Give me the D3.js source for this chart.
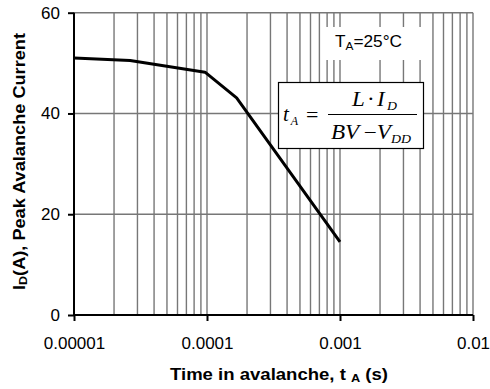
<!DOCTYPE html>
<html>
<head>
<meta charset="utf-8">
<script src="https://cdn.jsdelivr.net/npm/d3@7"></script>
<style>
  body{margin:0;background:#fff}
  svg{display:block;font-family:Arial,'Liberation Sans',sans-serif}
</style>
</head>
<body>
<svg id="chart" width="490" height="389"></svg>
<script>
// avalanche time (s) vs peak current (A)
const timeVals = [1e-5, 2.64e-5, 9.66e-5, 1.67e-4, 1e-3];
const currentVals = [51.0, 50.5, 48.2, 43.1, 14.5];
const xTickVals = [1e-5, 1e-4, 1e-3, 1e-2];
const xTickLabels = ['0.00001', '0.0001', '0.001', '0.01'];
const yTickVals = [0, 20, 40, 60];

const W = 490, H = 389;
const margin = { top: 12.7, right: 17, bottom: 74, left: 74 };
const svg = d3.select('#chart');

const x = d3.scaleLog().domain([1e-5, 1e-2]).range([margin.left, W - margin.right]);
const y = d3.scaleLinear().domain([0, 60]).range([H - margin.bottom, margin.top]);

// minor + major vertical grid
const gridX = [];
[1e-5, 1e-4, 1e-3].forEach(d => { for (let k = 1; k <= 10; k++) gridX.push(d * k); });
const uniq = [...new Set(gridX.map(v => +v.toPrecision(6)))].filter(v => v > 1e-5);
svg.append('g').selectAll('line').data(uniq).enter().append('line')
  .attr('x1', d => x(d)).attr('x2', d => x(d))
  .attr('y1', y(0)).attr('y2', y(60))
  .attr('stroke', '#777').attr('stroke-width', 1.4);
svg.append('g').selectAll('line').data(yTickVals.filter(v => v > 0)).enter().append('line')
  .attr('x1', x(1e-5)).attr('x2', x(1e-2))
  .attr('y1', d => y(d)).attr('y2', d => y(d))
  .attr('stroke', '#777').attr('stroke-width', 1.4);

// white label backgrounds
svg.append('rect').attr('x', 324).attr('y', 27).attr('width', 101).attr('height', 33).attr('fill', '#fff');
svg.append('text').attr('x', 335).attr('y', 47).attr('font-size', 16).attr('fill', '#000')
  .attr('textLength', 67).attr('lengthAdjust', 'spacingAndGlyphs')
  .call(t => {
    t.append('tspan').text('T');
    t.append('tspan').attr('font-size', 11).attr('dy', 3).text('A');
    t.append('tspan').attr('dy', -3).text('=25°C');
  });

// axes
const xAxis = d3.axisBottom(x).tickValues(xTickVals).tickFormat((d, i) => xTickLabels[i]).tickSize(6).tickPadding(16);
const gx = svg.append('g').attr('transform', `translate(0,${y(0)})`).call(xAxis);
gx.select('.domain').attr('stroke', '#000').attr('stroke-width', 2);
gx.selectAll('.tick line').attr('stroke', '#000').attr('stroke-width', 2);
gx.selectAll('.tick text').attr('font-size', 17).attr('font-family', 'Arial,Liberation Sans,sans-serif').attr('fill', '#000');

const yAxis = d3.axisLeft(y).tickValues(yTickVals).tickSize(6).tickPadding(8);
const gy = svg.append('g').attr('transform', `translate(${x(1e-5)},0)`).call(yAxis);
gy.select('.domain').attr('stroke', '#000').attr('stroke-width', 2);
gy.selectAll('.tick line').attr('stroke', '#000').attr('stroke-width', 2);
gy.selectAll('.tick text').attr('font-size', 17).attr('font-family', 'Arial,Liberation Sans,sans-serif').attr('fill', '#000');
gx.select('.domain').attr('d', `M${x(1e-5)},0H${x(1e-2)}`);
gy.select('.domain').attr('d', `M0,${y(0)}V${y(60)}`);

// curve
const pts = timeVals.map((t, i) => [t, currentVals[i]]);
svg.append('path').datum(pts)
  .attr('fill', 'none').attr('stroke', '#000').attr('stroke-width', 3).attr('stroke-linejoin', 'round')
  .attr('d', d3.line().x(d => x(d[0])).y(d => y(d[1])));

// equation box
const eq = svg.append('g').attr('font-family', "'Times New Roman','Liberation Serif',serif").attr('font-style', 'italic').attr('fill', '#000');
eq.append('rect').attr('x', 278.5).attr('y', 82.5).attr('width', 145).attr('height', 66)
  .attr('fill', '#fff').attr('stroke', '#000').attr('stroke-width', 1.2);
eq.append('text').attr('x', 283).attr('y', 121).attr('font-size', 21)
  .call(t => {
    t.append('tspan').text('t');
    t.append('tspan').attr('font-size', 12).attr('dy', 4).attr('dx', 2).text('A');
  });
eq.append('text').attr('x', 306).attr('y', 122).attr('font-size', 22).attr('font-style', 'normal').text('=');
eq.append('line').attr('x1', 328).attr('x2', 417).attr('y1', 114.5).attr('y2', 114.5).attr('stroke', '#000').attr('stroke-width', 1);
eq.append('text').attr('x', 352).attr('y', 106).attr('font-size', 20)
  .attr('textLength', 45).attr('lengthAdjust', 'spacingAndGlyphs')
  .call(t => {
    t.append('tspan').text('L');
    t.append('tspan').attr('font-style', 'normal').attr('dx', 2).text('·');
    t.append('tspan').attr('dx', 2).text('I');
    t.append('tspan').attr('font-size', 12).attr('dy', 4).attr('dx', 2).text('D');
  });
eq.append('text').attr('x', 331).attr('y', 139).attr('font-size', 20)
  .attr('textLength', 80).attr('lengthAdjust', 'spacingAndGlyphs')
  .call(t => {
    t.append('tspan').text('BV');
    t.append('tspan').attr('font-style', 'normal').attr('dx', 4).text('−');
    t.append('tspan').text('V');
    t.append('tspan').attr('font-size', 12).attr('dy', 4).text('DD');
  });

// axis titles
svg.append('text').attr('x', 170).attr('y', 380)
  .attr('font-size', 16).attr('font-weight', 'bold')
  .attr('textLength', 218).attr('lengthAdjust', 'spacingAndGlyphs')
  .call(t => {
    t.append('tspan').text('Time in avalanche, t ');
    t.append('tspan').attr('font-size', 11).attr('dy', 2).text('A');
    t.append('tspan').attr('dy', -2).text(' (s)');
  });
svg.append('text').attr('transform', 'translate(25,290) rotate(-90)')
  .attr('font-size', 16).attr('font-weight', 'bold')
  .attr('textLength', 257).attr('lengthAdjust', 'spacingAndGlyphs')
  .call(t => {
    t.append('tspan').text('I');
    t.append('tspan').attr('font-size', 11).attr('dy', 2).text('D');
    t.append('tspan').attr('dy', -2).text('(A), Peak Avalanche Current');
  });
</script>
</body>
</html>
